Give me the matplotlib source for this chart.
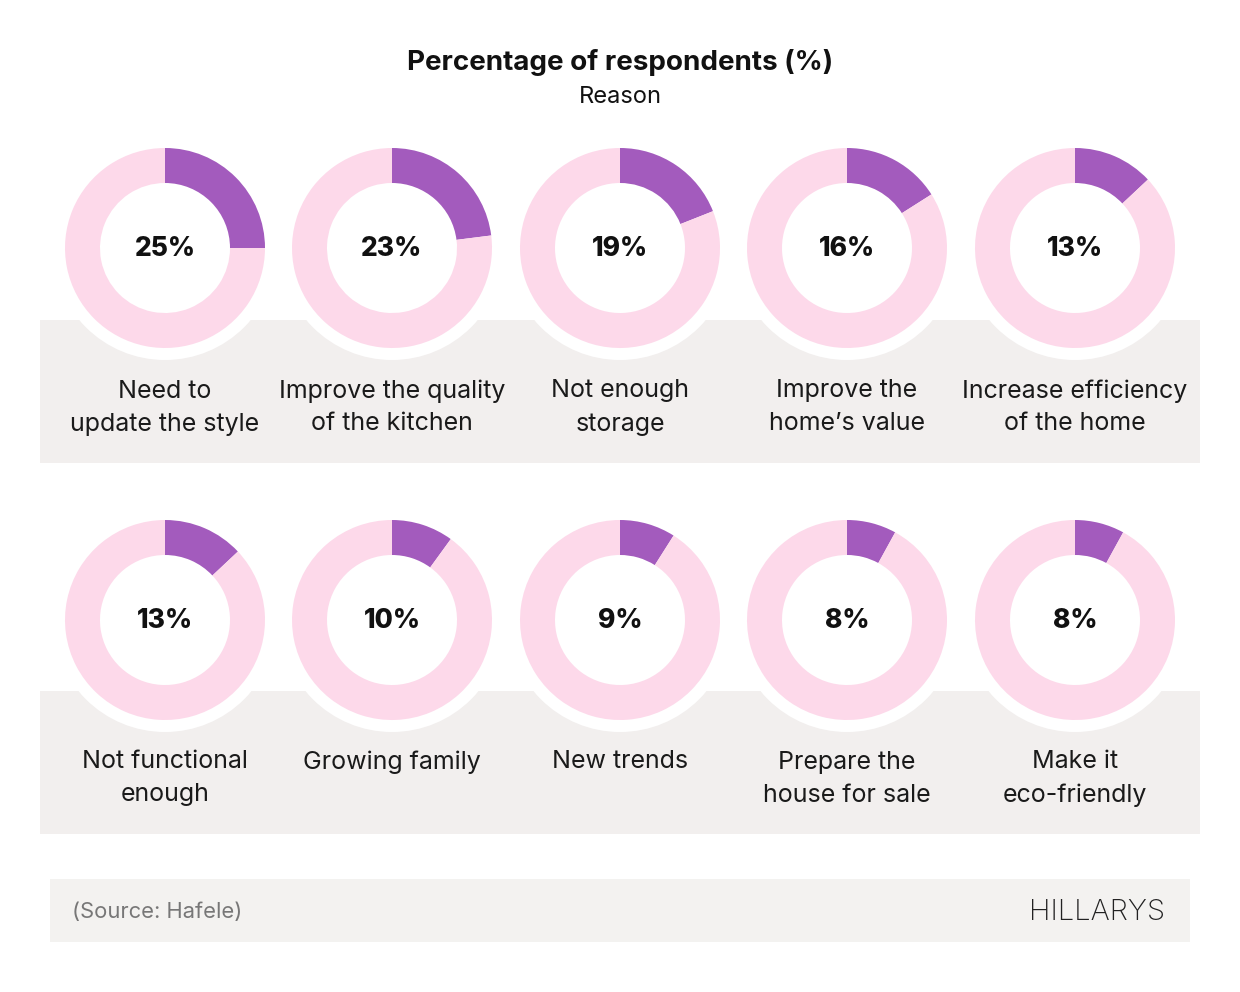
import matplotlib
matplotlib.use("Agg")
import matplotlib.pyplot as plt
from matplotlib.patches import Rectangle, Circle

plt.rcParams['font.family'] = ['Inter', 'DejaVu Sans']

title = "Percentage of respondents (%)"
subtitle = "Reason"
reasons = ["Need to\nupdate the style", "Improve the quality\nof the kitchen", "Not enough\nstorage",
           "Improve the\nhome\u2019s value", "Increase efficiency\nof the home",
           "Not functional\nenough", "Growing family", "New trends",
           "Prepare the\nhouse for sale", "Make it\neco-friendly"]
values = [25, 23, 19, 16, 13, 13, 10, 9, 8, 8]
source = "(Source: Hafele)"
brand = "HILLARYS"

W, H = 1240, 992
PURPLE = "#a35bbd"
PINK = "#fdd9ea"
BAND = "#f2efee"

fig = plt.figure(figsize=(W / 100, H / 100), dpi=100)
ax = fig.add_axes([0, 0, 1, 1])

def Y(y):
    return H - y

col_x = [165, 392, 620, 847, 1075]
row_y = [248, 620]
band_top = [320, 691]

for r in range(2):
    ax.add_patch(Rectangle((40, Y(band_top[r] + 143)), 1160, 143, facecolor=BAND, edgecolor='none', zorder=0))

for i, (lab, v) in enumerate(zip(reasons, values)):
    r, c = divmod(i, 5)
    cx, cy = col_x[c], Y(row_y[r])
    ax.add_patch(Circle((cx, cy), 112, facecolor='white', edgecolor='none', zorder=1))
    wedges, _ = ax.pie([v, 100 - v], colors=[PURPLE, PINK], startangle=90, counterclock=False,
                       center=(cx, cy), radius=100, wedgeprops=dict(width=35, edgecolor='none'),
                       frame=True)
    for w in wedges:
        w.set_zorder(2)
    ax.text(cx, cy - 1, f"{v}%", ha='center', va='center', fontsize=19, fontweight='heavy', color='#111111', zorder=3)
    for k, line in enumerate(lab.split("\n")):
        ax.text(cx, Y(band_top[r] + 71 + 33 * k), line, ha='center', va='center', fontsize=18,
                color='#1a1a1a', zorder=3)

ax.text(620, Y(63), title, ha='center', va='center', fontsize=20, fontweight='bold', color='#111111')
ax.text(620, Y(97), subtitle, ha='center', va='center', fontsize=17, color='#111111')

ax.add_patch(Rectangle((50, Y(942)), 1140, 63, facecolor='#f3f2f0', edgecolor='none', zorder=0))
ax.text(72, Y(912), source, ha='left', va='center', fontsize=15.8, color='#777777')
ax.text(1165, Y(912), brand, ha='right', va='center', fontsize=21, fontweight='light', color='#222222')

ax.set_xlim(0, W)
ax.set_ylim(0, H)
ax.set_aspect('equal')
ax.axis('off')
fig.savefig("out.png", dpi=100, facecolor='white')
